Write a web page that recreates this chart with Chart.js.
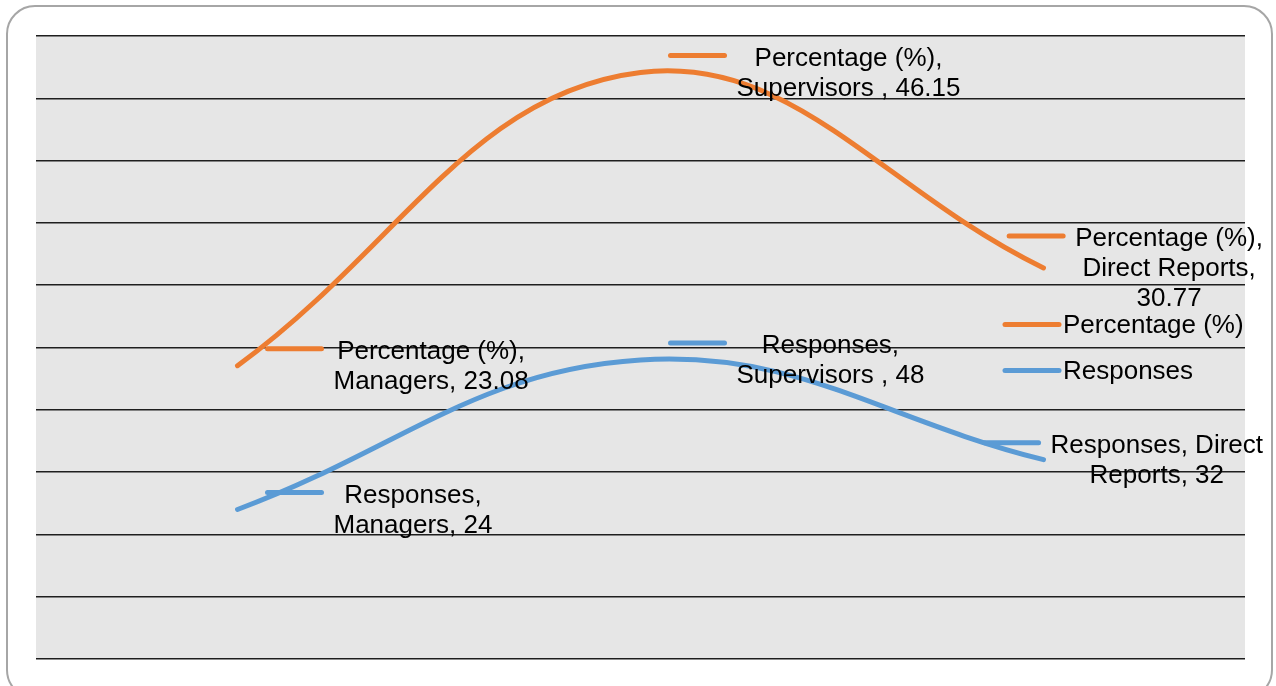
<!DOCTYPE html>
<html>
<head>
<meta charset="utf-8">
<script src="https://cdn.jsdelivr.net/npm/chart.js@4/dist/chart.umd.min.js"></script>
<style>
  html, body { margin: 0; padding: 0; background: #fff; }
  #wrap { width: 1276px; height: 686px; position: relative; }
</style>
</head>
<body>
<div id="wrap"><canvas id="c" width="1276" height="686"></canvas></div>
<script>
// Survey data
const categories = ['Managers', 'Supervisors ', 'Direct Reports'];
const responses = [24, 48, 32];
const percentages = [23.08, 46.15, 30.77];
const seriesNames = ['Responses', 'Percentage (%)'];

const ORANGE = '#ED7D31';
const BLUE = '#5B9BD5';
const FONT = '26px "Liberation Sans", Arial, sans-serif';

function roundRectPath(ctx, x, y, w, h, r) {
  ctx.beginPath();
  ctx.moveTo(x + r, y);
  ctx.arcTo(x + w, y, x + w, y + h, r);
  ctx.arcTo(x + w, y + h, x, y + h, r);
  ctx.arcTo(x, y + h, x, y, r);
  ctx.arcTo(x, y, x + w, y, r);
  ctx.closePath();
}

// White card with rounded outline and a grey plot area
const framePlugin = {
  id: 'frame',
  beforeDraw(chart) {
    const { ctx, chartArea: a } = chart;
    ctx.save();
    ctx.fillStyle = '#fff';
    ctx.fillRect(0, 0, chart.width, chart.height);
    roundRectPath(ctx, 7, 6, 1265, 692, 28);
    ctx.strokeStyle = '#a6a6a6';
    ctx.lineWidth = 2;
    ctx.stroke();
    ctx.fillStyle = '#e6e6e6';
    ctx.fillRect(a.left, a.top, a.right - a.left, a.bottom - a.top);
    ctx.restore();
  }
};

function wrapText(ctx, text, maxW) {
  const words = text.split(' ');
  const lines = [];
  let cur = '';
  for (const w of words) {
    const test = cur ? cur + ' ' + w : w;
    if (cur && ctx.measureText(test).width > maxW) {
      lines.push(cur);
      cur = w;
    } else {
      cur = test;
    }
  }
  lines.push(cur);
  return lines;
}

function drawKey(ctx, x, y, len, color) {
  ctx.save();
  ctx.strokeStyle = color;
  ctx.lineWidth = 5;
  ctx.lineCap = 'round';
  ctx.beginPath();
  ctx.moveTo(x, y);
  ctx.lineTo(x + len, y);
  ctx.stroke();
  ctx.restore();
}

// Data callouts ("Series, Category, Value") with a key swatch, plus the legend
const calloutPlugin = {
  id: 'callouts',
  afterDraw(chart) {
    const { ctx, chartArea: a } = chart;
    const lineH = 30, keyLen = 54, maxW = 232, rightLimit = 1263;
    ctx.save();
    ctx.font = FONT;
    ctx.fillStyle = '#000';
    ctx.textBaseline = 'middle';
    chart.data.datasets.forEach((ds, di) => {
      const meta = chart.getDatasetMeta(di);
      meta.data.forEach((pt, i) => {
        const text = ds.label + ', ' + categories[i] + ', ' + String(ds.data[i]);
        const lines = wrapText(ctx, text, maxW);
        const blockW = Math.max(...lines.map(l => ctx.measureText(l).width));
        let keyLeft = pt.x + 30;
        let textLeft = keyLeft + keyLen + 12;
        const over = textLeft + blockW - rightLimit;
        if (over > 0) { keyLeft -= over; textLeft -= over; }
        const firstY = pt.y - (lines.length - 1) * lineH / 2;
        drawKey(ctx, keyLeft, firstY - 2, keyLen, ds.borderColor);
        ctx.textAlign = 'center';
        lines.forEach((l, k) => ctx.fillText(l, textLeft + blockW / 2, firstY + 1 + k * lineH));
      });
    });
    // legend, listed top series first
    const midY = (a.top + a.bottom) / 2;
    const items = chart.data.datasets.slice().reverse();
    ctx.textAlign = 'left';
    items.forEach((ds, k) => {
      const y = midY - 23 + k * 46;
      drawKey(ctx, a.right - 240, y, keyLen, ds.borderColor);
      ctx.fillText(ds.label, a.right - 182, y + 1);
    });
    ctx.restore();
  }
};

new Chart(document.getElementById('c'), {
  type: 'line',
  data: {
    labels: categories,
    datasets: [
      { label: seriesNames[0], data: responses, borderColor: BLUE, backgroundColor: BLUE },
      { label: seriesNames[1], data: percentages, borderColor: ORANGE, backgroundColor: ORANGE }
    ]
  },
  options: {
    responsive: false,
    animation: false,
    devicePixelRatio: 1,
    layout: { padding: { left: 36, right: 31, top: 36, bottom: 27 } },
    elements: {
      line: { borderWidth: 5, tension: 0.4, borderCapStyle: 'round', borderJoinStyle: 'round', fill: false },
      point: { radius: 0, hoverRadius: 0 }
    },
    plugins: { legend: { display: false }, tooltip: { enabled: false } },
    scales: {
      x: { display: false, offset: true },
      y: {
        stacked: true,
        min: 0, max: 100,
        ticks: { display: false, stepSize: 10 },
        border: { display: false },
        grid: { color: '#1e1e1e', lineWidth: 1.5, drawTicks: false },
        afterFit(scale) { scale.width = 0; }
      }
    }
  },
  plugins: [framePlugin, calloutPlugin]
});
</script>
</body>
</html>
